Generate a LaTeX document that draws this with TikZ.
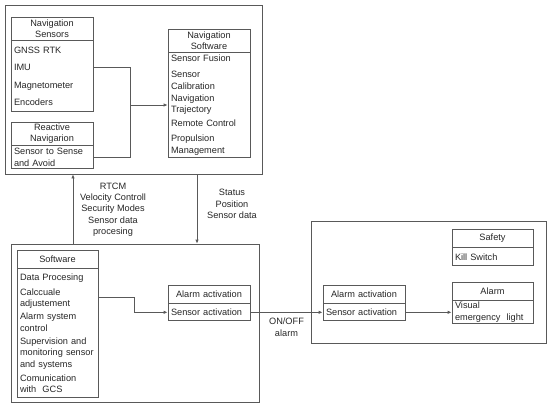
\documentclass[tikz,border=0pt]{standalone}
\usepackage{fontspec}
\setmainfont{Liberation Sans}
\usepackage{tikz}
\usetikzlibrary{arrows.meta}

\begin{document}
\begin{tikzpicture}[x=1pt,y=-1pt,
		linea/.style={draw=black!65, line width=0.8pt},
		flecha/.style={linea, -{Latex[length=4pt,width=3.5pt]}},
		caja/.style={linea, minimum width=#1},
		hdr/.style={linea, text width=#1, align=center, inner xsep=3pt, inner ysep=1pt,
			font=\fontsize{9.2}{11.3}\selectfont, text=black!85},
		bdy/.style={linea, text width=#1, align=left, inner xsep=3pt, inner ysep=1pt, anchor=north,
			font=\fontsize{9.2}{11.5}\selectfont, text=black!85},
		txt/.style={align=center, font=\fontsize{9.2}{11.3}\selectfont, text=black!85}]

		\useasboundingbox (0,0) rectangle (550,408);

		% Contenedores
		\node[caja=257, minimum height=169] (top) at (133.5,89.5) {};
		\node[caja=248, minimum height=158] (abajo) at (135,323) {};
		\node[caja=235, minimum height=122] (dcha) at (428.5,282) {};

		% Sensores de navegacion
		\node[hdr=76pt, minimum height=23] (navsens) at (52,28.5) {Navigation\\Sensors};
		\node[bdy=76pt, minimum height=71] (navsensb) at (navsens.south)
			{GNSS RTK\\[6pt]IMU\\[6pt]Magnetometer\\[6pt]Encoders};

		% Navegacion reactiva
		\node[hdr=76pt, minimum height=23] (react) at (52,133.5) {Reactive\\Navigarion};
		\node[bdy=76pt, minimum height=23] (reactb) at (react.south) {Sensor to Sense\\and Avoid};

		% Software de navegacion
		\node[hdr=76pt, minimum height=23] (navsoft) at (209,40.5) {Navigation\\Software};
		\node[bdy=76pt, minimum height=105] (navsoftb) at (navsoft.south)
			{Sensor Fusion\\[4.5pt]Sensor\\Calibration\\[0.5pt]Navigation\\Trajectory\\[2.5pt]Remote Control\\[3.5pt]Propulsion\\Management};

		% Software
		\node[hdr=75pt, minimum height=18] (soft) at (57.5,259) {Software};
		\node[bdy=75pt, minimum height=129] (softb) at (soft.south)
			{Data Procesing\\[3.5pt]Calccuale\\adjustement\\[1.5pt]Alarm system\\control\\[1.5pt]Supervision and\\monitoring sensor\\and systems\\[2.5pt]Comunication\\with\ \ GCS};

		% Activacion de alarma (izquierda)
		\node[hdr=76pt, minimum height=18] (alarmL) at (209,294) {Alarm activation};
		\node[bdy=76pt, minimum height=17] (alarmLb) at (alarmL.south) {Sensor activation};

		% Activacion de alarma (derecha)
		\node[hdr=76pt, minimum height=18] (alarmR) at (364,294) {Alarm activation};
		\node[bdy=76pt, minimum height=17] (alarmRb) at (alarmR.south) {Sensor activation};

		% Seguridad
		\node[hdr=75pt, minimum height=18] (safety) at (492.5,238) {Safety};
		\node[bdy=75pt, minimum height=18] (safetyb) at (safety.south) {Kill Switch};

		% Alarma
		\node[hdr=75pt, minimum height=18] (alarm) at (492.5,291) {Alarm};
		\node[bdy=75pt, minimum height=23, inner ysep=0pt] (alarmb) at (alarm.south) {Visual\\emergency\ \ light};

		% Conexiones de sensores
		\coordinate (imuy) at (0,67);
		\coordinate (jn) at (130,105);
		\draw[linea] (navsensb.east |- imuy) -| (jn |- reactb.east) -- (reactb.east);
		\draw[flecha] (jn) -- (navsoftb.west |- jn);

		% Flechas entre contenedores
		\coordinate (upx) at (73,0);
		\coordinate (dnx) at (197,0);
		\draw[flecha] (abajo.north -| upx) -- (top.south -| upx);
		\draw[flecha] (top.south -| dnx) -- (abajo.north -| dnx);
		\node[txt] (rtcm) at (113,209.5) {RTCM\\Velocity Controll\\Security Modes\\Sensor data\\procesing};
		\node[txt] (status) at (232,204) {Status\\Position\\Sensor data};

		% Software a alarma
		\coordinate (sy) at (0,297);
		\coordinate (sj) at (134,0);
		\draw[flecha] (softb.east |- sy) -| (sj |- alarmLb.west) -- (alarmLb.west);

		% ON/OFF
		\draw[flecha] (alarmLb.east) -- (alarmRb.west)
			node[txt, midway, below=2pt] (onoff) {ON/OFF\\alarm};
		\draw[flecha] (alarmRb.east) -- (alarmb.west |- alarmRb.east);

\end{tikzpicture}
\end{document}
